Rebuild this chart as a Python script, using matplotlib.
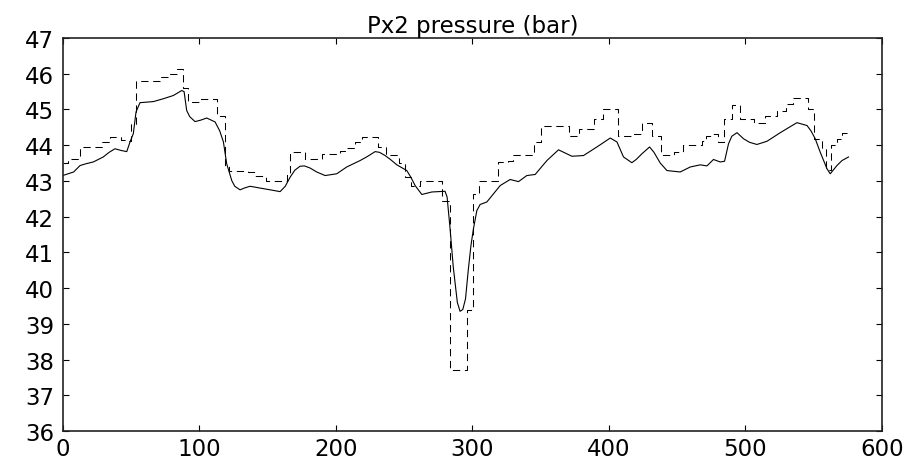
import numpy as np
import matplotlib
matplotlib.use("Agg")
import matplotlib.pyplot as plt

# measured pressure (solid) - sample index / bar
meas_x = [0, 4, 8, 12.7, 17, 22.4, 29.7, 34, 38.3, 43, 46.9, 49.3, 51.7, 53.7, 56.6,
          66.4, 73.7, 81, 87.2, 88.9, 90.8, 93, 96.9, 101, 105.5, 111.6, 115, 117.7,
          120.1, 123.8, 126, 129.9, 133, 137.2, 144.5, 152, 159.2, 163, 166.5, 170,
          173.8, 177, 181.2, 186, 192.2, 200.7, 208, 217.8, 223, 228.8, 232, 236.1,
          240, 244.7, 252, 255, 258.1, 263, 270.3, 280, 281.5, 283.7, 286, 289, 291,
          293, 295, 297, 299, 300.8, 303.3, 305.7, 310.6, 315.5, 320.4, 327.7, 333.8,
          339.9, 346, 354.6, 363.1, 368, 372.9, 381.4, 391.2, 401, 405.9, 410.7,
          416.8, 420, 424.2, 429.8, 433, 437.6, 442.5, 452.2, 459.6, 466.9, 471.8,
          476.6, 481.5, 484.7, 487.6, 490, 493.8, 498.6, 503, 508.4, 515.8, 525.5,
          532, 537.7, 545.1, 548, 551.1, 554.8, 559.7, 562.1, 567, 570.7, 575.5]
meas_y = [43.15, 43.2, 43.25, 43.43, 43.48, 43.53, 43.67, 43.8, 43.9, 43.85, 43.82,
          44.09, 44.32, 44.93, 45.19, 45.22, 45.3, 45.39, 45.53, 45.5, 44.97, 44.8,
          44.66, 44.7, 44.76, 44.65, 44.4, 44.09, 43.48, 43.01, 42.85, 42.75, 42.8,
          42.85, 42.8, 42.75, 42.7, 42.85, 43.1, 43.3, 43.41, 43.42, 43.36, 43.25,
          43.15, 43.2, 43.39, 43.57, 43.68, 43.82, 43.8, 43.71, 43.6, 43.45, 43.29,
          43.1, 42.87, 42.62, 42.69, 42.71, 42.55, 41.66, 40.6, 39.6, 39.35, 39.4,
          39.7, 40.5, 41.2, 41.66, 42.17, 42.34, 42.41, 42.64, 42.87, 43.04, 42.98,
          43.15, 43.18, 43.57, 43.87, 43.78, 43.69, 43.71, 43.95, 44.2, 44.09, 43.67,
          43.51, 43.6, 43.76, 43.95, 43.8, 43.5, 43.29, 43.25, 43.39, 43.45, 43.42,
          43.6, 43.53, 43.55, 44.04, 44.25, 44.35, 44.18, 44.08, 44.02, 44.11, 44.35,
          44.5, 44.63, 44.55, 44.4, 44.18, 43.8, 43.34, 43.2, 43.43, 43.57, 43.67]

# estimated pressure (dashed, held between updates)
est_x = [0, 4, 13, 29, 35, 43, 47, 50, 54, 71, 77, 84, 88, 92, 100, 113, 119, 122,
         136, 141, 149, 164, 166.5, 177.5, 190, 203, 207, 214, 219, 231, 237, 246,
         251, 255, 262, 278, 283.5, 296, 300.5, 305, 318.5, 326, 330, 345, 350, 371,
         378, 389, 396, 406.5, 417, 424, 431.5, 438, 448, 454, 468, 471, 476, 480,
         484.5, 490, 496, 506, 514, 523, 530, 535, 545.5, 550, 556, 559, 563, 567,
         571, 576]
est_y = [43.5, 43.62, 43.95, 44.1, 44.22, 44.15, 44.12, 44.6, 45.81, 45.9, 46.0,
         46.12, 45.6, 45.2, 45.3, 44.83, 43.43, 43.29, 43.25, 43.15, 43.01, 43.2,
         43.82, 43.62, 43.76, 43.85, 43.92, 44.1, 44.22, 43.95, 43.73, 43.5, 43.1,
         42.87, 43.0, 42.45, 37.72, 39.4, 42.64, 43.01, 43.53, 43.55, 43.73, 44.1,
         44.53, 44.27, 44.45, 44.74, 45.0, 44.26, 44.3, 44.63, 44.27, 43.73, 43.82,
         44.01, 44.13, 44.27, 44.3, 44.1, 44.74, 45.13, 44.74, 44.63, 44.81, 44.97,
         45.16, 45.32, 45.02, 44.18, 43.9, 43.3, 44.0, 44.18, 44.35, 44.35]

xticks = [0, 100, 200, 300, 400, 500, 600]
yticks = list(range(36, 48))

fig = plt.figure(figsize=(9.17, 4.6), dpi=100)
ax = fig.add_axes([62.7 / 917, 28 / 460, 819.3 / 917, 393 / 460])

ax.plot(meas_x, meas_y, color='black', linewidth=0.8)
ax.plot(est_x, est_y, color='black', linewidth=0.75, linestyle=(0, (7, 4.5)),
        drawstyle='steps-post')

ax.set_xlim(0, 600)
ax.set_ylim(36, 47)
ax.set_xticks(xticks)
ax.set_yticks(yticks)
ax.tick_params(direction='in', length=4, width=0.8, top=True, right=True,
               labelsize=16.5, colors='black')
ax.tick_params(axis='y', pad=6)
ax.tick_params(axis='x', pad=4)
for s in ax.spines.values():
    s.set_linewidth(1.2)
    s.set_color('#222222')

ax.set_title('Px2 pressure (bar)', fontsize=16.5, pad=4)

fig.savefig('out.png', dpi=100)
